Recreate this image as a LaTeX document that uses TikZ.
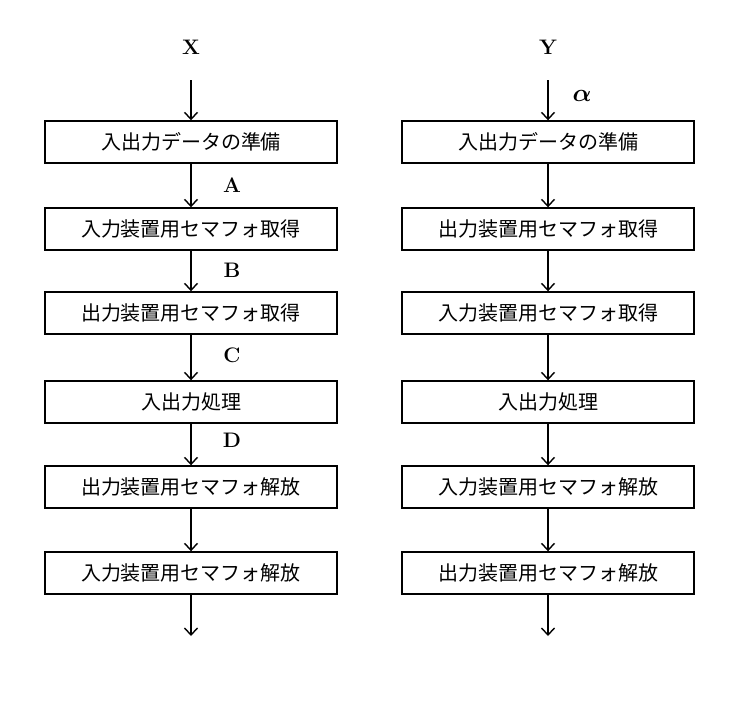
\documentclass[tikz,border=0pt]{standalone}
\usepackage{amsmath}
\usepackage{fontspec}
\newfontfamily\jpfont{Noto Sans CJK JP}
\usetikzlibrary{arrows.meta}
\tikzset{
  proc/.style={draw, line width=1.4pt, rectangle, minimum width=292pt, minimum height=42pt, font=\jpfont\fontsize{20}{24}\selectfont},
  flow/.style={line width=1.4pt, -{Straight Barb[length=7pt,width=13pt]}},
  lbl/.style={font=\bfseries\fontsize{21}{25}\selectfont}
}
\begin{document}
\begin{tikzpicture}[x=1pt, y=-1pt]
    \useasboundingbox (0,0) rectangle (756,705);
    % Titel
    \node[lbl] (tx) at (191,47) {X};
    \node[lbl] (ty) at (548,47) {Y};

    % Linke Spalte
    \node[proc] (x1) at (191,142) {入出力データの準備};
    \node[proc] (x2) at (191,229) {入力装置用セマフォ取得};
    \node[proc] (x3) at (191,313) {出力装置用セマフォ取得};
    \node[proc] (x4) at (191,402) {入出力処理};
    \node[proc] (x5) at (191,487) {出力装置用セマフォ解放};
    \node[proc] (x6) at (191,573) {入力装置用セマフォ解放};
    \coordinate (xs) at (191,80);
    \coordinate (xe) at (191,636);

    % Rechte Spalte
    \node[proc] (y1) at (548,142) {入出力データの準備};
    \node[proc] (y2) at (548,229) {出力装置用セマフォ取得};
    \node[proc] (y3) at (548,313) {入力装置用セマフォ取得};
    \node[proc] (y4) at (548,402) {入出力処理};
    \node[proc] (y5) at (548,487) {入力装置用セマフォ解放};
    \node[proc] (y6) at (548,573) {出力装置用セマフォ解放};
    \coordinate (ys) at (548,80);
    \coordinate (ye) at (548,636);

    % Pfeile
    \draw[flow] (xs) -- (x1);
    \draw[flow] (ys) -- (y1);
    \foreach \a/\b in {1/2, 2/3, 3/4, 4/5, 5/6} {
      \draw[flow] (x\a) -- (x\b);
      \draw[flow] (y\a) -- (y\b);
    }
    \draw[flow] (x6) -- (xe);
    \draw[flow] (y6) -- (ye);

    % Marken
    \node[lbl] (la) at (232,185) {A};
    \node[lbl] (lb) at (232,270) {B};
    \node[lbl] (lc) at (232,355) {C};
    \node[lbl] (ld) at (232,440) {D};
    \node[font=\fontsize{30}{34}\selectfont] (al) at (582,96) {$\boldsymbol{\alpha}$};
\end{tikzpicture}
\end{document}
